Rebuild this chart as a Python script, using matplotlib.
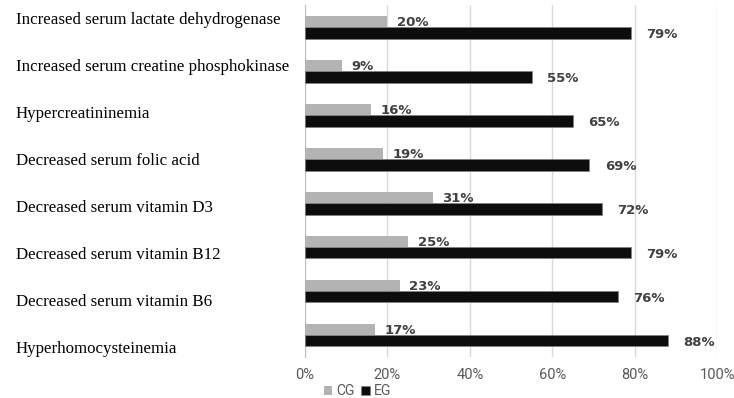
import matplotlib.pyplot as plt
import matplotlib.transforms as mtransforms
import numpy as np
from matplotlib.ticker import PercentFormatter

categories = [
    'Increased serum lactate dehydrogenase',
    'Increased serum creatine phosphokinase',
    'Hypercreatininemia',
    'Decreased serum folic acid',
    'Decreased serum vitamin D3',
    'Decreased serum vitamin B12',
    'Decreased serum vitamin B6',
    'Hyperhomocysteinemia',
]
cg = [20, 9, 16, 19, 31, 25, 23, 17]
eg = [79, 55, 65, 69, 72, 79, 76, 88]
xticks = [0, 20, 40, 60, 80, 100]

fig = plt.figure(figsize=(7.34, 3.98), dpi=100)
ax = fig.add_axes([0.4155, 0.103, 0.5615, 0.884])

y = np.arange(len(categories))
h = 0.26
ax.barh(y - h / 2, cg, height=h, color='#b3b3b3', label='CG', zorder=3)
ax.barh(y + h / 2, eg, height=h, color='#0d0d0d', edgecolor='#7f7f7f',
        linewidth=0.5, label='EG', zorder=3)

lab_kw = dict(fontsize=9.5, fontweight='bold', color='#404040', va='center',
              family='DejaVu Sans', textcoords='offset points')
for yi, v in zip(y, cg):
    ax.annotate(f'{v}%', (v, yi - h / 2), xytext=(7, -1), **lab_kw)
for yi, v in zip(y, eg):
    ax.annotate(f'{v}%', (v, yi + h / 2), xytext=(11, -1), **lab_kw)

ax.set_xlim(0, 100)
ax.set_ylim(len(categories) - 0.5, -0.5)
ax.set_xticks(xticks)
ax.xaxis.set_major_formatter(PercentFormatter(decimals=0))
ax.tick_params(axis='x', length=0, pad=8, labelsize=10.5, labelcolor='#595959')
for t in ax.get_xticklabels():
    t.set_family('Roboto')
ax.set_yticks([])
ax.grid(axis='x', color='#d9d9d9', linewidth=1, zorder=0)
for s in ['top', 'right', 'bottom']:
    ax.spines[s].set_visible(False)
ax.spines['left'].set_color('#bfbfbf')

# category names sit on their own even spacing at the far left
trans = mtransforms.blended_transform_factory(fig.transFigure, ax.transData)
label_y = np.linspace(-0.16, 7.32, len(categories))
for ly, name in zip(label_y, categories):
    fig.text(16 / 734, ly, name, transform=trans, ha='left', va='center',
             fontsize=12.2, family='Liberation Serif', color='black')

fig.legend(loc='center', bbox_to_anchor=(0.487, 0.017), ncol=2, frameon=False,
           prop={'family': 'Roboto', 'size': 10}, labelcolor='#595959',
           handlelength=0.6, handleheight=0.6,
           handletextpad=0.3, columnspacing=0.5, borderpad=0)

fig.savefig('out.png', dpi=100)
